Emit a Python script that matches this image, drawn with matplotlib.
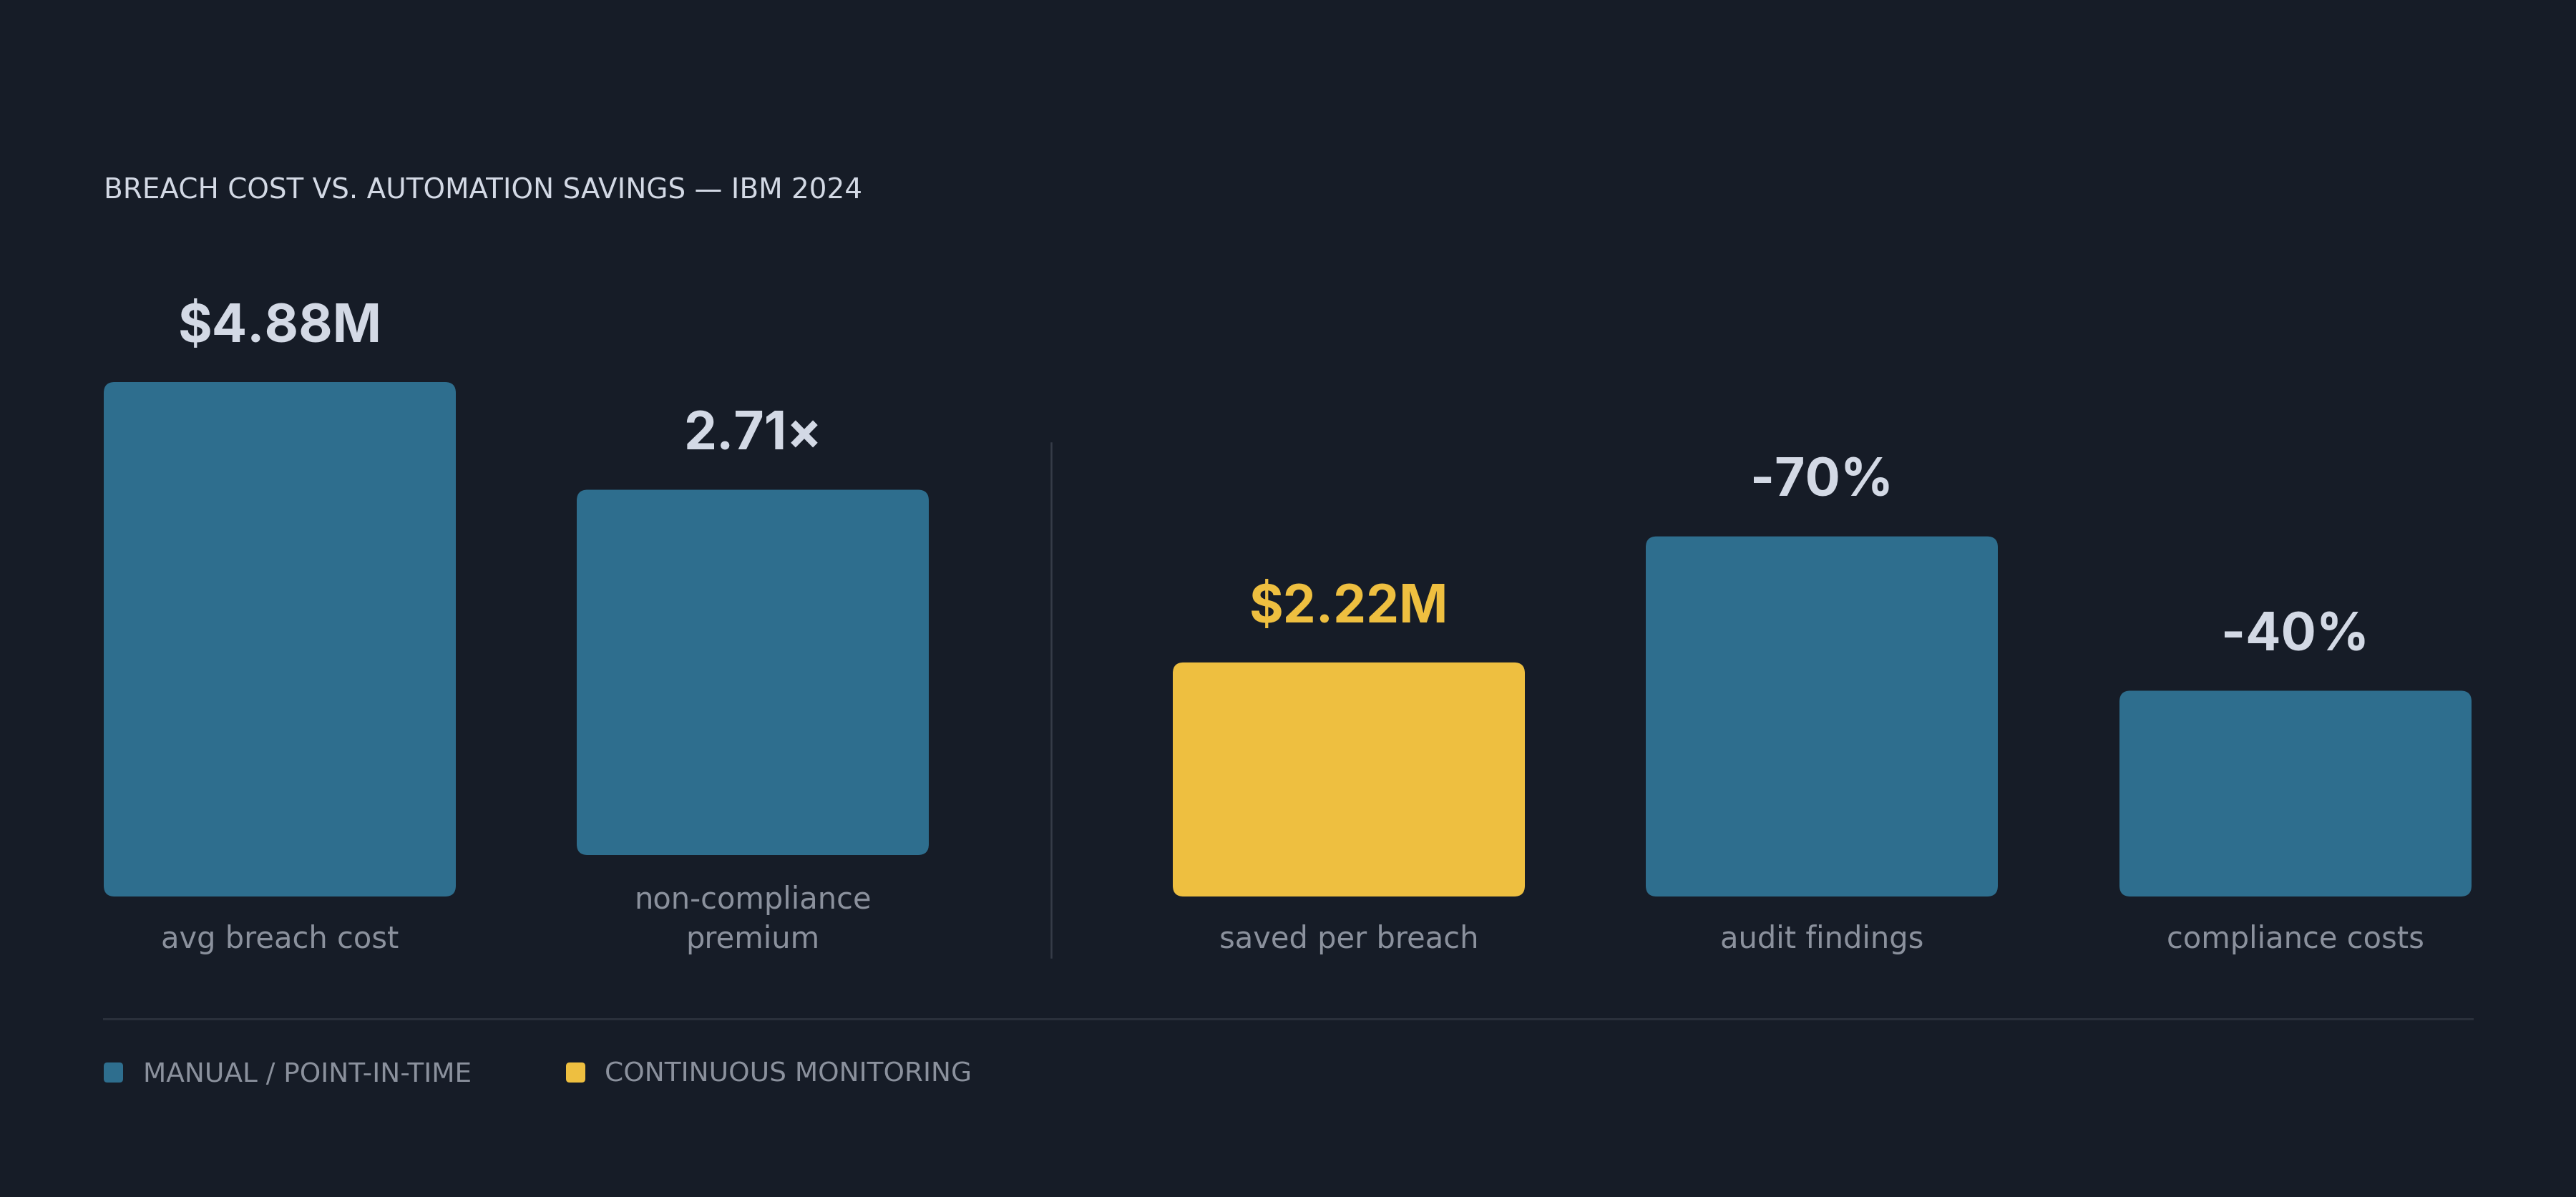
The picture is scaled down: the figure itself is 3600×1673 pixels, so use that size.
import matplotlib
matplotlib.use("Agg")
import matplotlib.pyplot as plt
from matplotlib.patches import FancyBboxPatch
from matplotlib.lines import Line2D
from matplotlib.transforms import IdentityTransform

# data
categories = ["avg breach cost", "non-compliance\npremium", "saved per breach",
              "audit findings", "compliance costs"]
value_labels = ["$4.88M", "2.71×", "$2.22M", "-70%", "-40%"]
bar_heights = [100, 71, 45.5, 70, 40]          # relative to the $4.88M bar
bar_series = ["manual", "manual", "continuous", "manual", "manual"]
legend_labels = ["MANUAL / POINT-IN-TIME", "CONTINUOUS MONITORING"]
title = "BREACH COST VS. AUTOMATION SAVINGS — IBM 2024"

# style
BG = "#161c27"
BLUE = "#2e6e8e"
YELLOW = "#eebf40"
TXT = "#d3d9e5"
MUTED = "#8b919d"
RULE = "#2a303b"
colors = {"manual": BLUE, "continuous": YELLOW}

W, H, DPI = 3600, 1674, 200
fig = plt.figure(figsize=(W / DPI, H / DPI), dpi=DPI, facecolor=BG)

def px(v):  # pixels -> points
    return v * 72 / DPI

col_left = [145, 806, 1639, 2300, 2962]
bar_w = 492
full_h = 719          # pixel height of the 100 bar
base = 1254           # bar bottom (from top) for one-line labels
line_step = 58

for i, cat in enumerate(categories):
    extra = cat.count("\n")
    bottom = base - line_step * extra
    ax = fig.add_axes([col_left[i] / W, (H - bottom) / H, bar_w / W, full_h / H])
    ax.set_axis_off()
    xmax = 100 * bar_w / full_h
    ax.set_xlim(0, xmax)
    ax.set_ylim(0, 100)
    c = colors[bar_series[i]]
    ax.add_patch(FancyBboxPatch((0, 0), xmax, bar_heights[i],
                                boxstyle="round,pad=0,rounding_size=2.1",
                                fc=c, ec="none", clip_on=False))
    ax.annotate(value_labels[i], xy=(xmax / 2, bar_heights[i]),
                xytext=(0, px(57)), textcoords="offset points",
                ha="center", va="baseline", fontsize=26.3,
                fontfamily=["Inter", "DejaVu Sans"], fontweight="bold",
                color=YELLOW if bar_series[i] == "continuous" else TXT,
                annotation_clip=False)
    # last line of every label sits on the same baseline
    ax.annotate(cat, xy=(0.5, 0), xycoords="axes fraction",
                xytext=(0, -px(71 + line_step * extra)), textcoords="offset points",
                ha="center", va="baseline", fontsize=15, linespacing=1.38,
                fontfamily="DejaVu Sans", color=MUTED, annotation_clip=False)

# title
fig.text(145 / W, (H - 277) / H, title, ha="left", va="baseline",
         fontsize=14, fontfamily="DejaVu Sans", color=TXT)

# vertical divider between groups and horizontal rule
fig.add_artist(Line2D([1469 / W, 1469 / W], [(H - 620) / H, (H - 1339) / H],
                      transform=fig.transFigure, color="#353b47", lw=px(2.5)))
fig.add_artist(Line2D([145 / W, 3455 / W], [(H - 1425) / H, (H - 1425) / H],
                      transform=fig.transFigure, color=RULE, lw=px(3)))

# legend
for sx, tx, lab, c in [(145, 200, legend_labels[0], BLUE),
                       (791, 845, legend_labels[1], YELLOW)]:
    fig.add_artist(FancyBboxPatch((sx, H - 1514), 27, 28,
                                  boxstyle="round,pad=0,rounding_size=5",
                                  fc=c, ec="none", transform=IdentityTransform()))
    fig.text(tx / W, (H - 1512) / H, lab, ha="left", va="baseline",
             fontsize=13.5, fontfamily="DejaVu Sans", color=MUTED)

fig.savefig("out.png", dpi=DPI, facecolor=BG)
